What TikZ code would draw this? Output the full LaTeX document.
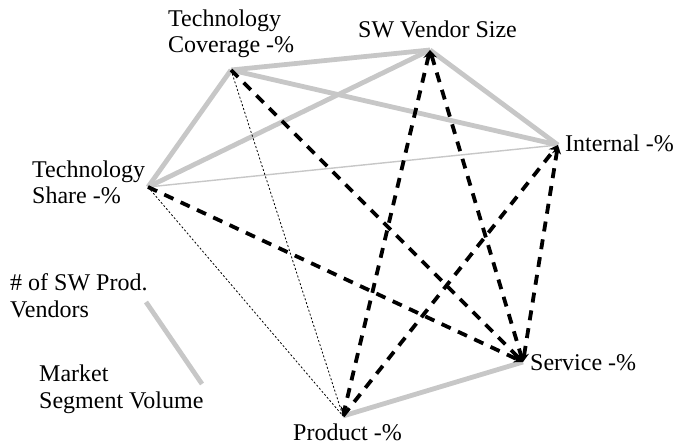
\documentclass[tikz,border=0pt]{standalone}
\usepackage{fontspec}
\setmainfont{Liberation Serif}
\usetikzlibrary{arrows.meta}
\definecolor{linkgray}{RGB}{199,199,199}
\begin{document}
\begin{tikzpicture}[x=1pt,y=-1pt,
  lbl/.style={anchor=base west, inner sep=0pt, align=left,
    font=\fontsize{24}{26.5}\selectfont},
  strong/.style={draw=linkgray, line width=4.8pt},
  weak/.style={draw=linkgray, line width=1.4pt},
  faint/.style={draw=black, line width=0.8pt, dash pattern=on 2pt off 2pt},
  infl/.style={draw=black, line width=3.8pt, dash pattern=on 10pt off 8pt,
    -{Stealth[length=9pt,width=9pt]}},
  mutual/.style={infl, {Stealth[length=9pt,width=9pt]}-{Stealth[length=9pt,width=9pt]}}]
  \useasboundingbox (0,0) rectangle (673,444);

  % factor positions
  \coordinate (tc) at (231,70);
  \coordinate (sv) at (430,50);
  \coordinate (in) at (558,145);
  \coordinate (ts) at (148,187);
  \coordinate (se) at (523,362);
  \coordinate (pr) at (343,416);

  % labels (anchored at the baseline of their last line)
  \node[lbl] (ltc) at (168,53) {Technology\\Coverage -\%};
  \node[lbl] (lsv) at (358,38) {SW Vendor Size};
  \node[lbl] (lin) at (565,152) {Internal -\%};
  \node[lbl] (lts) at (32,204) {Technology\\Share -\%};
  \node[lbl] (lse) at (530,370) {Service -\%};
  \node[lbl] (lpr) at (293,440) {Product -\%};

  % legend
  \node[lbl] (lvend) at (10,317) {\# of SW Prod.\\Vendors};
  \node[lbl] (lmkt) at (39,408) {Market\\Segment Volume};
  \coordinate (ka) at (146,302);
  \coordinate (kb) at (202,384);
  \draw[strong] (ka) -- (kb);

  % solid links
  \draw[strong] (tc) -- (sv);
  \draw[strong] (tc) -- (in);
  \draw[strong] (tc) -- (ts);
  \draw[strong] (ts) -- (sv);
  \draw[strong] (sv) -- (in);
  \draw[strong] (se) -- (pr);
  \draw[weak] (ts) -- (in);

  % weak dotted links
  \draw[faint] (tc) -- (pr);
  \draw[faint] (ts) -- (pr);

  % dashed influences
  \draw[infl] (tc) -- (se);
  \draw[infl] (ts) -- (se);
  \draw[mutual] (sv) -- (se);
  \draw[mutual] (sv) -- (pr);
  \draw[infl] (pr) -- (in);
  \draw[mutual] (in) -- (se);
\end{tikzpicture}
\end{document}
